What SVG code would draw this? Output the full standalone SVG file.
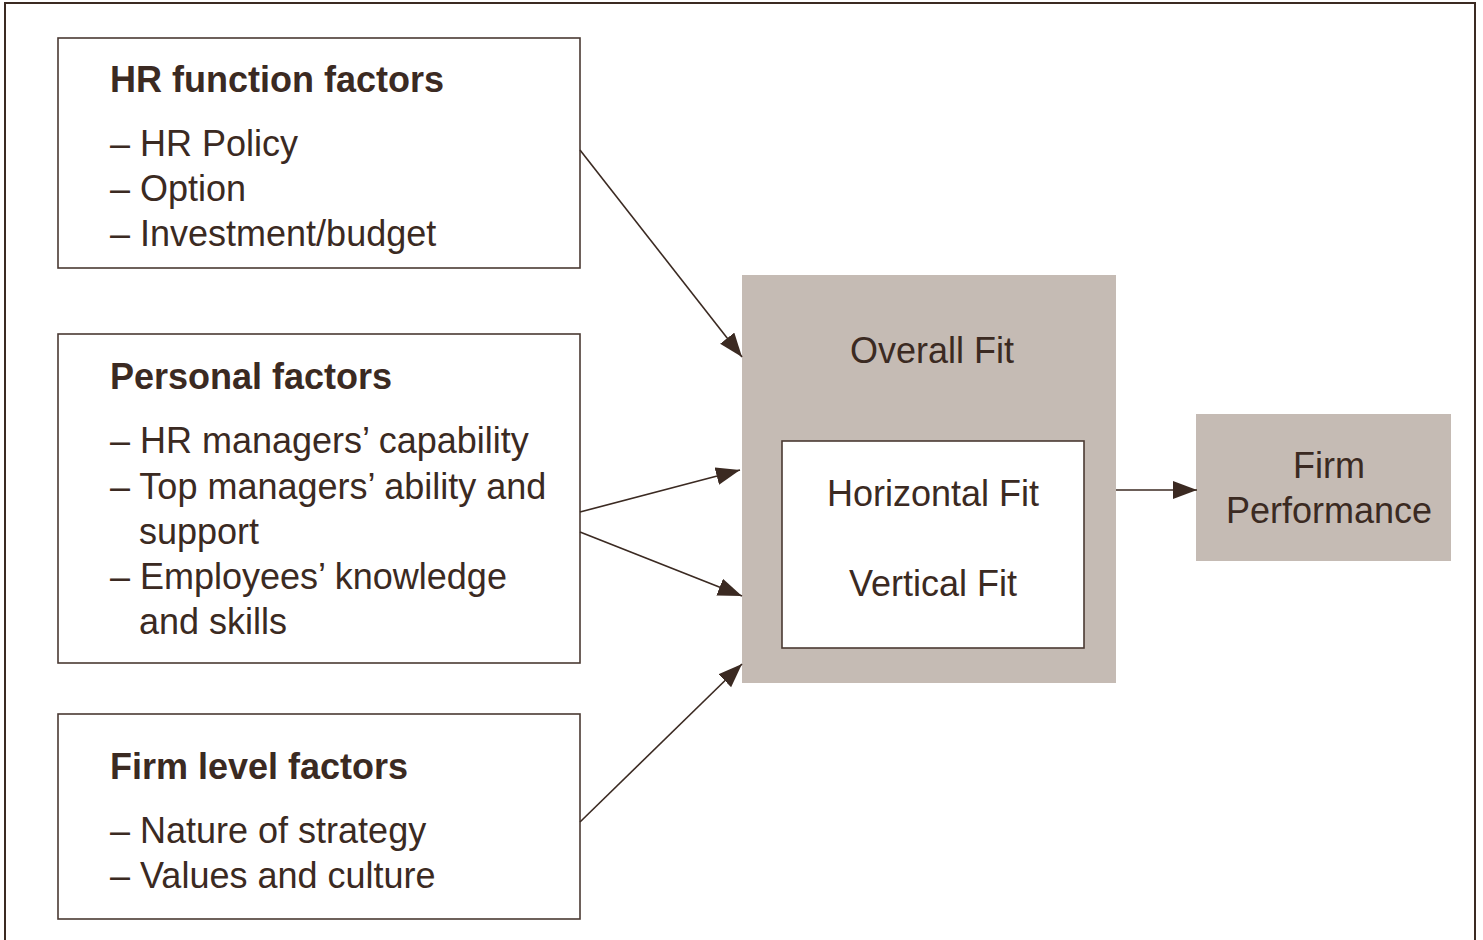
<svg xmlns="http://www.w3.org/2000/svg" width="1483" height="940" viewBox="0 0 1483 940">
<defs>
<style>
.t{font-family:"Liberation Sans",Arial,sans-serif;font-size:36px;fill:#3b2a22}
.b{font-weight:bold}
.m{text-anchor:middle}
.box{fill:#fff;stroke:#4a3a33;stroke-width:1.6}
.sh{fill:#c5bbb4}
.c{stroke:#3b2a22;stroke-width:1.6;fill:none;marker-end:url(#ah)}
</style>
<marker id="ah" markerUnits="userSpaceOnUse" markerWidth="26" markerHeight="20" refX="24" refY="9" orient="auto">
<path d="M0,0 L24,9 L0,18 z" fill="#3b2a22"/>
</marker>
</defs>
<rect width="1483" height="940" fill="#fff"/>
<path d="M5,945 V3 H1475 V945" fill="none" stroke="#3b2a22" stroke-width="2"/>

<g id="hr-function">
<rect class="box" x="58" y="38" width="522" height="230"/>
<text class="t b" x="110" y="92">HR function factors</text>
<text class="t" x="110" y="156">– HR Policy</text>
<text class="t" x="110" y="201">– Option</text>
<text class="t" x="110" y="246">– Investment/budget</text>
</g>

<g id="personal">
<rect class="box" x="58" y="334" width="522" height="329"/>
<text class="t b" x="110" y="389">Personal factors</text>
<text class="t" x="110" y="453">– HR managers’ capability</text>
<text class="t" x="110" y="499">– Top managers’ ability and</text>
<text class="t" x="139" y="544">support</text>
<text class="t" x="110" y="589">– Employees’ knowledge</text>
<text class="t" x="139" y="634">and skills</text>
</g>

<g id="firm-level">
<rect class="box" x="58" y="714" width="522" height="205"/>
<text class="t b" x="110" y="779">Firm level factors</text>
<text class="t" x="110" y="843">– Nature of strategy</text>
<text class="t" x="110" y="888">– Values and culture</text>
</g>

<g id="overall-fit">
<rect class="sh" x="742" y="275" width="374" height="408"/>
<text class="t m" x="932" y="363">Overall Fit</text>
<rect class="box" x="782" y="441" width="302" height="207"/>
<text class="t m" x="933" y="506">Horizontal Fit</text>
<text class="t m" x="933" y="596">Vertical Fit</text>
</g>

<g id="firm-performance">
<rect class="sh" x="1196" y="414" width="255" height="147"/>
<text class="t m" x="1329" y="478">Firm</text>
<text class="t m" x="1329" y="523">Performance</text>
</g>

<g id="connectors">
<line class="c" x1="580" y1="150" x2="742" y2="357"/>
<line class="c" x1="580" y1="512" x2="740" y2="470"/>
<line class="c" x1="580" y1="532" x2="742" y2="596"/>
<line class="c" x1="580" y1="822" x2="742" y2="664"/>
<line class="c" x1="1116" y1="490" x2="1197" y2="490"/>
</g>
</svg>
